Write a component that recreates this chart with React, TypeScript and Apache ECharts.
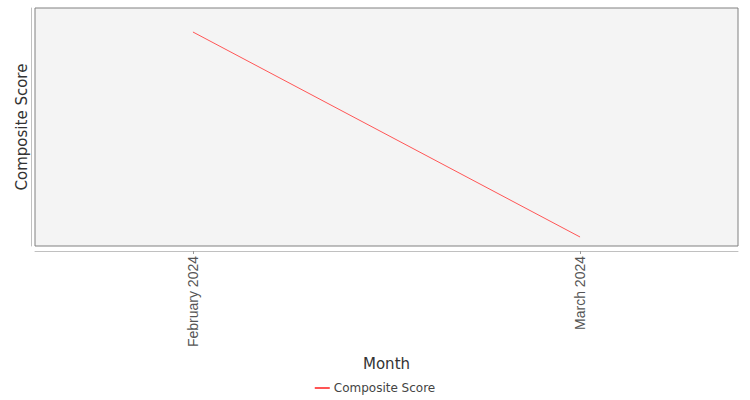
import React, { useEffect, useRef } from 'react';
import * as echarts from 'echarts';

// 月份类别与综合得分
const MONTHS = ['February 2024', 'March 2024'];
const SCORES = [0.72, 0.41];
const SERIES_NAME = 'Composite Score';

const FONT = '"DejaVu Sans", sans-serif';
const TICK_FONT = '"Liberation Sans", Arial, sans-serif';

const App: React.FC = () => {
  const chartRef = useRef<HTMLDivElement>(null);

  useEffect(() => {
    if (!chartRef.current) return;
    const chart = echarts.init(chartRef.current, undefined, { renderer: 'svg' });
    const positions = MONTHS.map((_, i) => i);

    chart.setOption({
      animation: false,
      backgroundColor: '#ffffff',
      textStyle: { fontFamily: FONT },
      grid: {
        left: 35,
        right: 12,
        top: 8,
        bottom: 154,
        show: true,
        backgroundColor: '#f4f4f4',
        borderColor: '#808080',
        borderWidth: 1,
      },
      legend: {
        data: [SERIES_NAME],
        top: 377,
        left: 'center',
        itemWidth: 15,
        itemHeight: 2,
        itemGap: 4,
        icon: 'rect',
        textStyle: { color: '#444', fontSize: 12, fontFamily: FONT, padding: [0, 0, 0, -1] },
      },
      xAxis: {
        type: 'value',
        min: -0.408,
        max: 1.408,
        offset: 5,
        name: 'Month',
        nameLocation: 'middle',
        nameGap: 105,
        nameTextStyle: { color: '#333', fontSize: 15, fontFamily: FONT },
        splitLine: { show: false },
        axisLine: { show: true, onZero: false, lineStyle: { color: '#c0c0c0' } },
        axisTick: { show: true, customValues: positions, length: 3, lineStyle: { color: '#999' } },
        axisLabel: {
          customValues: positions,
          rotate: 90,
          margin: 5,
          color: '#555',
          fontSize: 14,
          fontFamily: TICK_FONT,
          formatter: (v: number) => MONTHS[Math.round(v)] ?? '',
        },
      },
      yAxis: {
        type: 'value',
        min: 0.3964,
        max: 0.7563,
        offset: 4,
        name: 'Composite Score',
        nameLocation: 'middle',
        nameGap: 2,
        nameTextStyle: { color: '#333', fontSize: 15, fontFamily: FONT },
        splitLine: { show: false },
        axisLine: { show: true, onZero: false, lineStyle: { color: '#c0c0c0' } },
        axisTick: { show: false },
        axisLabel: { show: false },
      },
      series: [
        {
          name: SERIES_NAME,
          type: 'line',
          data: SCORES.map((s, i) => [i, s]),
          symbol: 'none',
          lineStyle: { color: '#ff5555', width: 1 },
          itemStyle: { color: '#ff5555' },
        },
      ],
    });

    return () => chart.dispose();
  }, []);

  return (
    <div
      ref={chartRef}
      style={{ position: 'absolute', left: 0, top: 0, width: 750, height: 400 }}
    />
  );
};

export default App;
